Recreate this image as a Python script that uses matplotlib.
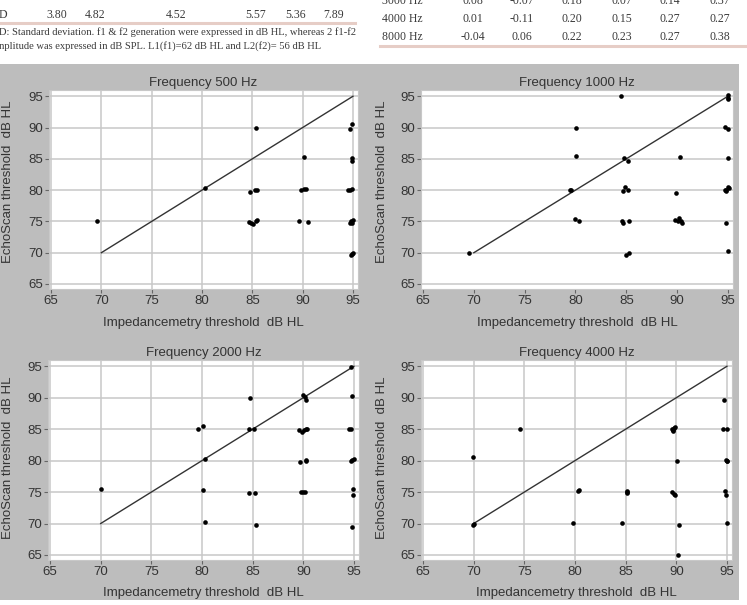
import matplotlib.pyplot as plt
from matplotlib.patches import Rectangle

# table fragments above the figure
sd_values = ["3.80", "4.82", "4.52", "5.57", "5.36", "7.89"]
rows_3000 = ["0.08", "-0.07", "0.18", "0.07", "0.14", "0.37"]
rows_4000 = ["0.01", "-0.11", "0.20", "0.15", "0.27", "0.27"]
rows_8000 = ["-0.04", "0.06", "0.22", "0.23", "0.27", "0.38"]
right_labels = ["3000 Hz", "4000 Hz", "8000 Hz"]
note_lines = ["D: Standard deviation. f1 & f2 generation were expressed in dB HL, whereas 2 f1-f2",
              "nplitude was expressed in dB SPL. L1(f1)=62 dB HL and L2(f2)= 56 dB HL"]

# scatter data: impedancemetry threshold (x) vs EchoScan threshold (y)
x500 = [69.6, 85.4, 80.3, 84.8, 85.3, 85.5, 84.7, 84.9, 85.1, 85.4, 85.5,
        90.1, 89.8, 90.1, 90.3, 89.6, 90.5,
        94.9, 94.7, 94.9, 94.9, 94.5, 94.7, 94.9, 94.7, 94.8, 95.0, 94.9, 94.8, 95.0, 94.9]
y500 = [75.0, 90.0, 80.3, 79.7, 80.0, 80.1, 74.9, 74.7, 74.6, 75.0, 75.2,
        85.3, 80.1, 80.2, 80.2, 75.0, 74.9,
        90.5, 89.7, 85.1, 84.7, 80.0, 80.1, 80.2, 74.8, 75.0, 75.2, 74.7, 69.6, 70.0, 69.8]

x1000 = [69.5, 84.5, 95.0, 95.0, 95.0, 80.1, 80.1, 79.5, 79.6, 80.0, 80.3,
         84.8, 85.2, 84.7, 84.9, 85.2, 84.7, 84.6, 85.3, 85.0, 85.3,
         89.9, 90.3, 89.8, 90.1, 90.2, 90.4, 90.5,
         94.7, 95.0, 95.0, 94.7, 94.8, 95.1, 95.0, 94.8, 94.8, 95.0]
y1000 = [70.0, 95.0, 95.2, 94.8, 94.6, 90.0, 85.5, 80.1, 80.0, 75.4, 75.0,
         85.2, 84.6, 79.9, 80.5, 80.1, 74.8, 75.0, 75.1, 69.7, 69.9,
         79.6, 85.3, 75.3, 75.0, 75.5, 75.0, 74.8,
         90.1, 89.7, 85.2, 80.0, 79.8, 80.3, 80.5, 80.1, 74.7, 70.3]

x2000 = [70.0, 94.7, 90.0, 90.2, 90.3, 94.8, 84.7, 79.6, 80.1, 84.6, 85.1,
         89.6, 89.9, 90.1, 90.3, 90.4, 94.5, 94.7, 80.3, 89.7, 90.3, 90.3,
         94.8, 95.0, 94.7, 80.1, 84.6, 85.2, 89.8, 90.0, 90.2, 94.9, 94.9,
         80.3, 85.3, 94.8]
y2000 = [75.5, 94.9, 90.5, 90.1, 89.7, 90.3, 89.9, 85.1, 85.5, 85.1, 85.1,
         84.8, 84.6, 84.8, 85.0, 85.0, 85.1, 85.0, 80.2, 79.8, 80.1, 79.9,
         80.1, 80.2, 80.0, 75.3, 74.8, 74.9, 75.0, 75.0, 75.0, 75.5, 74.6,
         70.3, 69.8, 69.5]

x4000 = [69.9, 74.6, 69.9, 70.0, 79.8, 80.3, 80.4, 85.1, 85.1, 85.1, 84.6,
         89.6, 89.7, 89.8, 89.9, 89.7, 90.1, 89.6, 89.8, 89.9, 90.3, 90.2,
         94.7, 94.6, 95.0, 94.9, 95.0, 95.0, 94.8, 94.9, 95.0]
y4000 = [80.6, 85.0, 69.7, 70.0, 70.1, 75.2, 75.3, 75.2, 74.8, 75.0, 70.1,
         85.1, 84.7, 85.2, 85.3, 84.9, 80.0, 75.0, 74.7, 74.5, 69.8, 65.0,
         89.7, 85.1, 85.0, 80.1, 79.9, 80.0, 75.1, 74.5, 70.1]

panels = [("Frequency 500 Hz", x500, y500),
          ("Frequency 1000 Hz", x1000, y1000),
          ("Frequency 2000 Hz", x2000, y2000),
          ("Frequency 4000 Hz", x4000, y4000)]
ticks = [65, 70, 75, 80, 85, 90, 95]

W, H = 747, 605
fig = plt.figure(figsize=(W / 100, H / 100), dpi=100, facecolor="white")
plt.rcParams['font.family'] = ['Liberation Sans', 'DejaVu Sans']


def fx(px):
    return px / W


def fy(py):
    return 1 - py / H


# grey panel behind the plots
fig.patches.append(Rectangle((0, fy(600)), fx(739), fy(64) - fy(600),
                             transform=fig.transFigure, facecolor="#bdbdbd",
                             edgecolor="none", zorder=-5))

serif = ['Liberation Serif', 'DejaVu Serif']
tc = "#3a3a3a"
# left table fragment
fig.text(fx(-1), fy(-4), "D HL", family=serif, fontsize=8.5, color=tc, va="center")
fig.text(fx(-1), fy(15), "D", family=serif, fontsize=8.5, color=tc, va="center")
for v, cx in zip(sd_values, [57, 95, 176, 256, 296, 334]):
    fig.text(fx(cx), fy(15), v, family=serif, fontsize=8.5, color=tc,
             ha="center", va="center")
fig.lines.append(plt.Line2D([0, fx(355)], [fy(23), fy(23)], transform=fig.transFigure,
                            color="#e6cdc6", lw=2.2))
for i, line in enumerate(note_lines):
    fig.text(fx(-1), fy(32 + 14 * i), line, family=serif, fontsize=7.55, color=tc,
             va="center")

# right table fragment
for j, (lab, vals) in enumerate(zip(right_labels, [rows_3000, rows_4000, rows_8000])):
    yy = fy(0.5 + 18.5 * j)
    fig.text(fx(382), yy, lab, family=serif, fontsize=8.5, color=tc, va="center")
    for v, cx in zip(vals, [473, 522, 572, 622, 670, 720]):
        fig.text(fx(cx), yy, v, family=serif, fontsize=8.5, color=tc,
                 ha="center", va="center")
fig.lines.append(plt.Line2D([fx(380), fx(745)], [fy(46), fy(46)], transform=fig.transFigure,
                            color="#e6cdc6", lw=2.2))

# axes boxes in pixels: left, top, right, bottom
boxes = [(49, 90, 358, 289), (421, 90, 733, 289),
         (48, 360, 359, 560), (421, 360, 732, 560)]

for k, ((title, xs, ys), (l, t, r, b)) in enumerate(zip(panels, boxes)):
    ax = fig.add_axes([fx(l), fy(b), fx(r) - fx(l), fy(t) - fy(b)])
    ax.set_facecolor("white")
    ax.set_xlim(64.8, 95.5)
    ax.set_ylim(64.2, 96)
    ax.set_xticks(ticks)
    ax.set_yticks(ticks)
    ax.grid(axis="y", color="#c8c8c8", lw=1.1)
    if k != 1:
        ax.grid(axis="x", color="#c8c8c8", lw=1.1)
    ax.set_axisbelow(True)
    for s in ax.spines.values():
        s.set_color("#c8c8c8")
    ax.tick_params(labelsize=9.5, length=3, color="#666666", labelcolor="#333333", pad=1.5)
    ax.plot([70, 95], [70, 95], color="#333333", lw=1.0, zorder=2)
    ax.scatter(xs, ys, s=11, color="black", zorder=3, linewidths=0)
    ax.set_title(title, fontsize=9.5, color="#333333", pad=3)
    ax.set_xlabel("Impedancemetry threshold  dB HL", fontsize=9.5, color="#333333")
    ax.set_ylabel("EchoScan threshold  dB HL", fontsize=9.5, color="#333333")
    ax.xaxis.label.set_va("center")
    ax.yaxis.label.set_va("center")
    if k < 2:
        ax.xaxis.set_label_coords(0.5, -0.171)
        ax.yaxis.set_label_coords((8 + 374 * (k % 2) - l) / (r - l), 0.54)
    else:
        ax.xaxis.set_label_coords(0.5, -0.165)
        ax.yaxis.set_label_coords((8 + 374 * (k % 2) - l) / (r - l), 0.51)

fig.savefig("out.png", dpi=100, facecolor="white")
